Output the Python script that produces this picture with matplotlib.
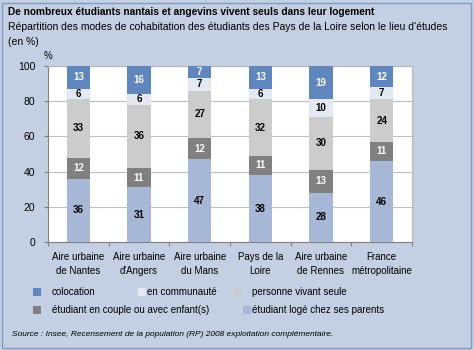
import matplotlib
matplotlib.use('Agg')
import matplotlib.pyplot as plt
import numpy as np
from matplotlib.patches import Rectangle

plt.rcParams['font.family'] = ['Liberation Sans', 'DejaVu Sans']

# ============================================================
# Données
# ============================================================

categories = ['Aire urbaine\nde Nantes', "Aire urbaine\nd'Angers", 'Aire urbaine\ndu Mans',
              'Pays de la\nLoire', 'Aire urbaine\nde Rennes', 'France\nmétropolitaine']

parents = [36, 31, 47, 38, 28, 46]
couple = [12, 11, 12, 11, 13, 11]
seule = [33, 36, 27, 32, 30, 24]
communaute = [6, 6, 7, 6, 10, 7]
colocation = [13, 16, 7, 13, 19, 12]

series = [
    ('étudiant logé chez ses parents', parents, '#a6b8d6', 'black'),
    ('étudiant en couple ou avec enfant(s)', couple, '#808080', 'white'),
    ('personne vivant seule', seule, '#cccccc', 'black'),
    ('en communauté', communaute, '#e3e8f2', 'black'),
    ('colocation', colocation, '#5f87bd', 'white'),
]

yticks = [0, 20, 40, 60, 80, 100]

# ============================================================
# Figure
# ============================================================

W, H = 474, 350
bg = '#c4cfe3'
fig = plt.figure(figsize=(W / 100, H / 100), dpi=100, facecolor=bg)

# cadre extérieur
fig.add_artist(Rectangle((2 / W, 2 / H), 1 - 5 / W, 1 - 5 / H, transform=fig.transFigure,
                         fill=False, edgecolor='#7f9cc7', linewidth=1))

ax = fig.add_axes([48 / W, (H - 242) / H, 364 / W, 176 / H])
ax.set_facecolor('white')

x = np.arange(len(categories))
bottom = np.zeros(len(categories))
for name, vals, color, tcolor in series:
    vals = np.array(vals)
    ax.bar(x, vals, width=0.39, bottom=bottom, color=color, zorder=3)
    for xi, b, v in zip(x, bottom, vals):
        ax.text(xi, b + v / 2, str(v), ha='center', va='center', fontsize=7,
                fontweight='bold', color=tcolor, zorder=4)
    bottom += vals

ax.set_xlim(-0.5, len(categories) - 0.5)
ax.set_ylim(0, 100)
ax.set_yticks(yticks)
ax.set_yticklabels([str(t) for t in yticks], fontsize=7.5)
ax.set_xticks(np.arange(len(categories) + 1) - 0.5)
ax.set_xticklabels([])
ax.tick_params(axis='both', direction='out', length=3, color='#808080', pad=6)
ax.yaxis.grid(True, color='#c0c0c0', linewidth=0.8, zorder=0)
ax.set_axisbelow(True)

for side in ['left', 'bottom']:
    ax.spines[side].set_color('#808080')
for side in ['top', 'right']:
    ax.spines[side].set_color('#b8b8b8')

for xi, lab in zip(x, categories):
    ax.text(xi, -5.5, lab, ha='center', va='top', fontsize=7, linespacing=1.6)

ax.text(0, 1.03, '%', transform=ax.transAxes, fontsize=7, ha='center', va='bottom')

# ============================================================
# Titres
# ============================================================

def px(xp, yp):
    return xp / W, 1 - yp / H

fig.text(*px(8, 12), 'De nombreux étudiants nantais et angevins vivent seuls dans leur logement',
         fontsize=7.3, fontweight='bold', va='center')
fig.text(*px(8, 27), "Répartition des modes de cohabitation des étudiants des Pays de la Loire selon le lieu d'études",
         fontsize=7.5, va='center')
fig.text(*px(8, 42), '(en %)', fontsize=7.5, va='center')

# ============================================================
# Légende
# ============================================================

legend_items = [
    ('colocation', '#5f87bd', 33, 52, 292),
    ('en communauté', '#e3e8f2', 138, 147, 292),
    ('personne vivant seule', '#cccccc', 233, 252, 292),
    ('étudiant en couple ou avec enfant(s)', '#808080', 33, 52, 310),
    ('étudiant logé chez ses parents', '#a6b8d6', 243, 252, 310),
]
for label, color, sx, tx, yy in legend_items:
    fig.add_artist(Rectangle((sx / W, 1 - (yy + 4) / H), 8 / W, 8 / H,
                             transform=fig.transFigure, facecolor=color, edgecolor='none'))
    fig.text(*px(tx, yy), label, fontsize=7, va='center')

fig.text(*px(12, 335), 'Source : Insee, Recensement de la population (RP) 2008 exploitation complémentaire.',
         fontsize=6.0, style='italic', va='center')

fig.savefig('out.png', dpi=100, facecolor=bg)
